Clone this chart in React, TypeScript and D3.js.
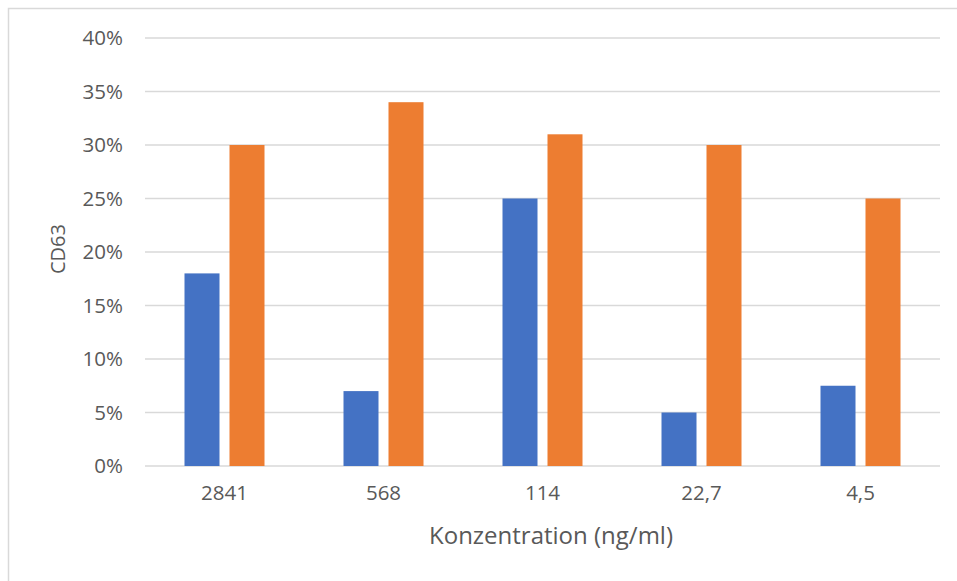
import React from "react";
import * as d3 from "d3";

const categories = ["2841", "568", "114", "22,7", "4,5"];
const seriesBlue = [0.18, 0.07, 0.25, 0.05, 0.075];
const seriesOrange = [0.30, 0.34, 0.31, 0.30, 0.25];
const yTicks = [0, 0.05, 0.1, 0.15, 0.2, 0.25, 0.3, 0.35, 0.4];

const W = 957;
const H = 581;
const left = 145;
const right = 940;
const top = 38;
const bottom = 466;

export default function App() {
  const x = d3.scaleBand<string>().domain(categories).range([left, right]).paddingInner(0).paddingOuter(0);
  const y = d3.scaleLinear().domain([0, 0.4]).range([bottom, top]);
  const barW = 35;
  const gap = 10;
  const fmt = d3.format(".0%");
  const font = "'Open Sans', Lato, sans-serif";
  const txt = "#595959";

  return (
    <svg width={W} height={H} style={{ position: "absolute", left: 0, top: 0, background: "#fff" }}>
      <rect x={8.5} y={8.5} width={W + 10} height={H + 10} fill="#fff" stroke="#d9d9d9" strokeWidth={1.5} />
      {yTicks.map((t) => (
        <g key={t}>
          <line x1={left} x2={right} y1={y(t)} y2={y(t)} stroke="#d9d9d9" strokeWidth={1.3} />
          <text x={123} y={y(t)} dy="0.35em" textAnchor="end" fontFamily={font} fontSize={20.5} fill={txt}>
            {fmt(t)}
          </text>
        </g>
      ))}
      {categories.map((c, i) => {
        const cx = (x(c) as number) + x.bandwidth() / 2;
        return (
          <g key={c}>
            <rect x={cx - gap / 2 - barW} y={y(seriesBlue[i])} width={barW} height={bottom - y(seriesBlue[i])} fill="#4472C4" />
            <rect x={cx + gap / 2} y={y(seriesOrange[i])} width={barW} height={bottom - y(seriesOrange[i])} fill="#ED7D31" />
            <text x={cx} y={493} dy="0.35em" textAnchor="middle" fontFamily={font} fontSize={20.5} fill={txt}>
              {c}
            </text>
          </g>
        );
      })}
      <text x={551} y={536} dy="0.35em" textAnchor="middle" fontFamily={font} fontSize={24} fill={txt}>
        Konzentration (ng/ml)
      </text>
      <text transform={`translate(58,249) rotate(-90)`} dy="0.35em" textAnchor="middle" fontFamily={font} fontSize={20} fill={txt}>
        CD63
      </text>
    </svg>
  );
}
